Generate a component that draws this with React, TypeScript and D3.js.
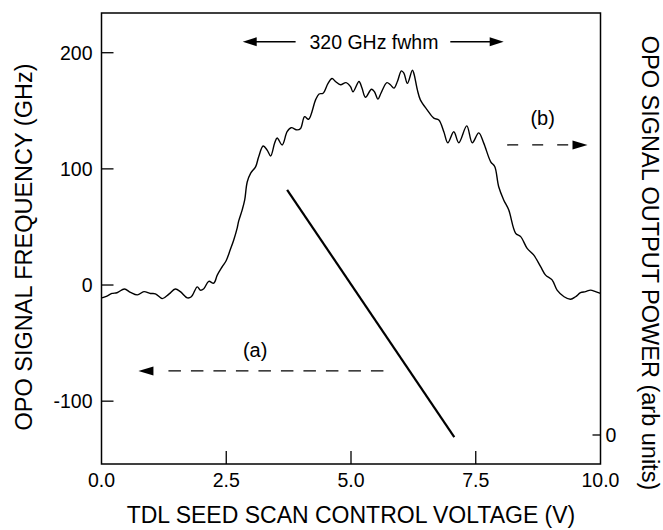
import React from 'react';
import * as d3 from 'd3';

const W = 663;
const H = 530;

// Curve (b): OPO signal output power (arb units) vs TDL scan voltage (V)
const voltage = [
  0.01, 0.11, 0.21, 0.31, 0.46, 0.58, 0.72, 0.85, 0.98, 1.08, 1.22, 1.35, 1.48, 1.58, 1.72, 1.8,
  1.92, 1.98, 2.05, 2.15, 2.25, 2.32, 2.42, 2.5, 2.58, 2.65, 2.72, 2.75, 2.82, 2.87, 2.92, 2.99,
  3.09, 3.15, 3.24, 3.32, 3.39, 3.47, 3.52, 3.62, 3.72, 3.8, 3.92, 3.99, 4.07, 4.15, 4.29, 4.36,
  4.44, 4.54, 4.62, 4.69, 4.79, 4.9, 4.99, 5.04, 5.16, 5.22, 5.29, 5.41, 5.47, 5.54, 5.6, 5.72,
  5.79, 5.86, 5.93, 6.01, 6.06, 6.13, 6.23, 6.26, 6.33, 6.39, 6.53, 6.66, 6.76, 6.86, 6.94, 7.06,
  7.16, 7.32, 7.43, 7.56, 7.66, 7.8, 7.88, 7.96, 8.06, 8.16, 8.3, 8.4, 8.53, 8.66, 8.8, 8.9,
  9.03, 9.13, 9.27, 9.4, 9.5, 9.6, 9.7, 9.8, 9.9, 10.0,
];
const power = [
  37.4, 37.9, 38.6, 38.8, 39.8, 38.9, 38.2, 39.1, 38.6, 38.5, 37.2, 38.4, 39.8, 39.1, 37.4, 37.7,
  40.4, 39.5, 39.9, 41.9, 41.4, 43.6, 45.9, 47.6, 50.5, 53.2, 56.5, 58.4, 61.4, 64.1, 69.0, 71.4,
  73.2, 75.9, 78.8, 77.7, 76.1, 79.6, 81.0, 79.1, 82.7, 83.8, 83.2, 83.6, 86.8, 86.1, 91.4, 93.0,
  93.2, 95.9, 97.2, 96.4, 95.5, 96.1, 95.0, 93.6, 96.4, 94.6, 92.1, 94.3, 93.6, 91.6, 93.2, 96.1,
  95.5, 94.6, 96.4, 99.3, 98.7, 95.9, 99.5, 98.6, 94.1, 91.4, 88.6, 86.4, 85.9, 82.7, 79.7, 82.7,
  79.7, 84.3, 79.7, 82.4, 79.6, 74.5, 73.2, 67.7, 64.1, 61.4, 55.0, 54.1, 50.9, 49.1, 45.9, 43.6,
  42.3, 39.5, 37.7, 37.0, 37.7, 38.8, 39.1, 39.5, 39.1, 38.6,
];

// Line (a): OPO signal frequency (GHz) vs voltage
const lineAVoltage = [3.72, 7.07];
const lineAFreq = [82, -131];

// Axes
const xTicks = [0, 2.5, 5, 7.5, 10];
const xTickLabels = ['0.0', '2.5', '5.0', '7.5', '10.0'];
const yTicks = [200, 100, 0, -100];
const yTickLabels = ['200', '100', '0', '-100'];
const rightTicks = [0];
const rightTickLabels = ['0'];

// Annotation anchors (data coords)
const fwhmArrowLeft = [3.89, 2.83]; // tail, tip (V)
const fwhmArrowRight = [6.99, 8.06];
const fwhmY = 209.5; // GHz
const fwhmLabel = '320 GHz fwhm';
const fwhmLabelX = 5.46;
const arrowA = [5.68, 0.74]; // tail, tip (V)
const arrowAY = -74; // GHz
const labelA = '(a)';
const labelAPos = [3.08, -62];
const arrowB = [8.13, 9.74];
const arrowBY = 79.1; // arb units
const labelB = '(b)';
const labelBPos = [8.84, 84.5];

const FONT = '"Liberation Sans", Arial, Helvetica, sans-serif';

export default function App() {
  const left = 101.5;
  const right = 600.5;
  const top = 13;
  const bottom = 464;

  const x = d3.scaleLinear().domain([0, 10]).range([left, right]);
  const y = d3.scaleLinear().domain([-154.1, 234.2]).range([bottom, top]);
  const yR = d3.scaleLinear().domain([-7.91, 115.08]).range([bottom, top]);

  const curve = d3
    .line<number>()
    .x((_, i) => x(voltage[i]))
    .y((d) => yR(d))
    .curve(d3.curveCatmullRom.alpha(0.5))(power) as string;

  const lineA = d3
    .line<number>()
    .x((_, i) => x(lineAVoltage[i]))
    .y((d) => y(d))(lineAFreq) as string;

  const head = (tx: number, ty: number, dir: number, len = 14, hw = 4.5) =>
    `${tx},${ty} ${tx - dir * len},${ty - hw} ${tx - dir * len},${ty + hw}`;

  const fy = y(fwhmY);
  const ay = y(arrowAY);
  const by = yR(arrowBY);

  return (
    <svg
      width={W}
      height={H}
      style={{ position: 'absolute', left: 0, top: 0, background: '#fff' }}
      fontFamily={FONT}
    >
      <rect x={0} y={0} width={W} height={H} fill="#fff" />

      {/* frame */}
      <rect x={left} y={top} width={right - left} height={bottom - top} fill="none" stroke="#000" strokeWidth={1.5} />

      {/* x ticks */}
      {xTicks.map((t, i) => (
        <g key={'xt' + i}>
          {i > 0 && i < xTicks.length - 1 && (
            <line x1={x(t)} x2={x(t)} y1={bottom} y2={bottom - 13} stroke="#000" strokeWidth={1.3} />
          )}
          <text x={x(t)} y={bottom + 23} textAnchor="middle" fontSize={19.5} fill="#000">
            {xTickLabels[i]}
          </text>
        </g>
      ))}

      {/* left y ticks */}
      {yTicks.map((t, i) => (
        <g key={'yt' + i}>
          <line x1={left} x2={left + 12} y1={y(t)} y2={y(t)} stroke="#000" strokeWidth={1.3} />
          <text x={left - 9} y={y(t)} dy="0.35em" textAnchor="end" fontSize={19.5} fill="#000">
            {yTickLabels[i]}
          </text>
        </g>
      ))}

      {/* right y ticks */}
      {rightTicks.map((t, i) => (
        <g key={'rt' + i}>
          <line x1={right} x2={right - 8} y1={yR(t)} y2={yR(t)} stroke="#000" strokeWidth={1.3} />
          <text x={right + 5} y={yR(t)} dy="0.35em" textAnchor="start" fontSize={19.5} fill="#000">
            {rightTickLabels[i]}
          </text>
        </g>
      ))}

      {/* axis titles */}
      <text x={(left + right) / 2} y={523} textAnchor="middle" fontSize={23} fill="#000">
        TDL SEED SCAN CONTROL VOLTAGE (V)
      </text>
      <text
        transform={`translate(24,247) rotate(-90)`}
        dy="0.35em"
        textAnchor="middle"
        fontSize={23.5}
        fill="#000"
      >
        OPO SIGNAL FREQUENCY (GHz)
      </text>
      <text
        transform={`translate(650,263) rotate(90)`}
        dy="0.35em"
        textAnchor="middle"
        fontSize={23.5}
        fill="#000"
      >
        OPO SIGNAL OUTPUT POWER (arb units)
      </text>

      {/* curve (b) */}
      <path d={curve} fill="none" stroke="#000" strokeWidth={1.4} strokeLinejoin="round" />

      {/* line (a) */}
      <path d={lineA} fill="none" stroke="#000" strokeWidth={2.2} />

      {/* fwhm annotation */}
      <line x1={x(fwhmArrowLeft[0])} x2={x(fwhmArrowLeft[1]) + 12} y1={fy} y2={fy} stroke="#000" strokeWidth={1.5} />
      <polygon points={head(x(fwhmArrowLeft[1]), fy, -1)} fill="#000" />
      <line x1={x(fwhmArrowRight[0])} x2={x(fwhmArrowRight[1]) - 12} y1={fy} y2={fy} stroke="#000" strokeWidth={1.5} />
      <polygon points={head(x(fwhmArrowRight[1]), fy, 1)} fill="#000" />
      <text x={x(fwhmLabelX)} y={fy} dy="0.35em" textAnchor="middle" fontSize={19.5} fill="#000">
        {fwhmLabel}
      </text>

      {/* arrow (a) */}
      <line
        x1={x(arrowA[1]) + 30}
        x2={x(arrowA[0])}
        y1={ay}
        y2={ay}
        stroke="#000"
        strokeWidth={1.3}
        strokeDasharray="12.5 10"
      />
      <polygon points={head(x(arrowA[1]), ay, -1, 15)} fill="#000" />
      <text x={x(labelAPos[0])} y={y(labelAPos[1])} textAnchor="middle" fontSize={20} fill="#000">
        {labelA}
      </text>

      {/* arrow (b) */}
      <line
        x1={x(arrowB[0])}
        x2={x(arrowB[1]) - 15}
        y1={by}
        y2={by}
        stroke="#000"
        strokeWidth={1.3}
        strokeDasharray="11 14"
      />
      <polygon points={head(x(arrowB[1]), by, 1, 15)} fill="#000" />
      <text x={x(labelBPos[0])} y={yR(labelBPos[1])} textAnchor="middle" fontSize={20} fill="#000">
        {labelB}
      </text>
    </svg>
  );
}
